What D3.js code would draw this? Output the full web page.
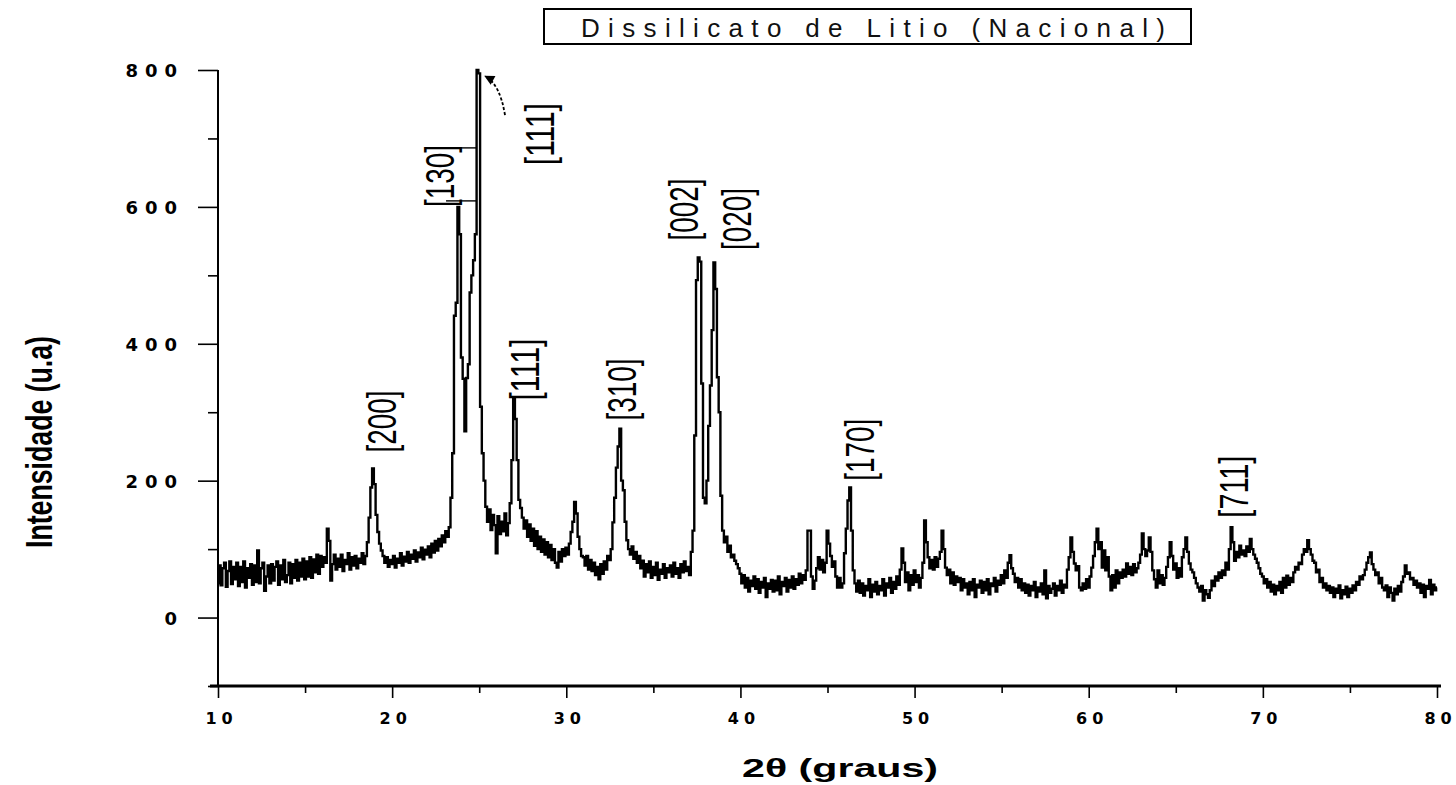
<!DOCTYPE html>
<html>
<head>
<meta charset="utf-8">
<script src="https://cdn.jsdelivr.net/npm/d3@7"></script>
<style>
  html, body { margin: 0; padding: 0; background: #fff; }
  svg { display: block; }
</style>
</head>
<body>
<svg id="chart" width="1456" height="785"></svg>
<script>
// ---------------- data ----------------
const chartTitle = "Dissilicato de Litio (Nacional)";
const xTitle = "2θ (graus)";
const yTitle = "Intensidade (u.a)";

const angleStart = 10;      // 2θ of first sample (degrees)
const angleStep = 0.1;      // sampling step (degrees)
// intensity readings, one per 0.1° from 10.0° to 80.0°
const intensity = [
  50,76,47,72,80,45,68,82,49,74,
  56,80,46,74,52,82,44,72,58,78,
  48,76,52,98,50,72,80,39,60,76,
  50,78,54,74,82,48,76,56,84,52,
  62,80,50,78,58,84,54,80,60,86,
  56,82,60,88,58,85,66,92,64,90,
  74,88,80,130,112,54,78,92,70,86,
  74,92,68,84,78,94,70,88,76,90,
  72,86,80,94,78,90,110,146,190,218,
  195,150,125,108,98,90,80,88,74,84,
  78,90,73,86,80,94,76,89,82,96,
  80,92,86,98,82,95,88,102,85,99,
  92,104,88,108,95,112,98,115,104,120,
  110,126,118,132,175,240,441,460,600,560,
  380,349,272,350,370,475,500,522,560,800,
  795,308,240,200,162,140,158,128,150,135,
  94,148,122,140,126,152,120,138,167,230,
  321,290,230,172,160,146,130,142,118,136,
  112,130,105,126,100,118,96,114,92,110,
  88,106,84,100,80,73,96,82,100,90,
  102,92,108,125,140,169,152,118,100,90,
  88,76,90,70,84,68,80,62,74,56,
  78,64,82,70,90,84,100,139,175,219,
  250,276,200,186,140,113,100,92,104,86,
  96,80,90,72,83,60,78,66,82,58,
  74,62,80,55,70,64,78,58,72,66,
  76,60,80,64,72,58,78,66,82,68,
  74,62,96,127,266,493,526,520,342,175,
  167,200,280,339,420,519,480,351,300,178,
  127,110,118,96,105,88,92,83,78,72,
  64,50,62,44,58,38,54,46,60,42,
  56,36,52,44,58,30,50,42,55,38,
  54,40,60,34,52,46,58,38,55,44,
  60,42,56,48,64,50,62,55,69,127,
  127,60,42,54,72,88,70,84,66,80,
  127,108,90,74,82,60,44,58,44,50,
  94,130,171,190,127,69,50,38,54,36,
  50,32,46,40,56,30,48,38,52,34,
  46,40,56,32,50,44,58,36,52,42,
  60,48,70,101,80,52,66,40,62,48,
  69,52,62,44,58,80,142,110,88,72,
  84,70,88,74,86,96,127,100,73,62,
  70,50,66,48,60,52,58,40,56,44,
  50,34,52,40,56,30,48,44,54,36,
  52,40,56,34,50,46,58,38,54,48,
  62,50,69,58,80,91,72,64,52,58,
  44,56,40,50,36,48,32,46,40,52,
  30,44,38,50,34,69,28,46,36,42,
  50,32,46,40,54,36,48,44,70,88,
  117,96,79,69,75,44,40,50,42,56,
  44,60,73,90,110,130,100,110,73,98,
  69,88,60,40,62,44,69,50,66,58,
  70,60,79,64,74,62,78,66,72,80,
  92,123,100,90,98,117,96,69,56,44,
  69,50,62,48,58,74,88,110,90,70,
  79,58,72,60,88,100,117,96,79,70,
  66,58,50,44,38,46,25,40,34,29,
  40,54,46,60,54,66,58,69,62,80,
  70,100,132,110,83,96,88,105,92,98,
  90,104,96,115,100,92,86,80,72,64,
  60,50,56,44,52,38,48,34,46,40,
  52,36,58,44,61,48,58,52,66,74,
  70,80,78,92,100,96,113,100,92,83,
  80,66,70,52,58,44,50,40,46,36,
  44,30,42,36,47,28,40,34,45,30,
  42,36,47,40,52,48,60,56,62,70,
  80,88,95,78,70,62,66,50,58,44,
  40,47,30,44,36,25,42,34,46,38,
  52,60,76,64,66,56,58,48,54,44,
  50,36,48,30,46,42,55,34,48,40,
  44
];

// axes
const xDomain = [10, 80];
const yDomain = [-100, 800];
const xMajorTicks = [10, 20, 30, 40, 50, 60, 70, 80];
const xMinorTicks = [15, 25, 35, 45, 55, 65, 75];
const yMajorTicks = [0, 200, 400, 600, 800];
const yMinorTicks = [-100, 100, 300, 500, 700];

// peak (Miller index) annotations: label, 2θ of label centre, intensity at label bottom
const peakLabels = ["[200]", "[130]", "[111]", "[111]", "[310]", "[002]", "[020]", "[170]", "[711]"];
const peakLabelAngle = [19.42, 22.75, 28.5, 27.63, 33.2, 36.77, 39.8, 46.87, 68.36];
const peakLabelBase = [241, 600, 661, 317, 288, 551, 537, 200, 146];
const bracketedLabel = 1;        // index of the label whose brackets reach the peak
const bracketReachAngle = 24.85; // 2θ where those bracket strokes end

// arrow from upper [111] label to main peak: [2θ, intensity]
const arrowTail = [26.48, 734];
const arrowHead = [25.34, 791];

// ---------------- drawing ----------------
const svg = d3.select("#chart");
const mLeft = 218, mRight = 1437, mTop = 70, mBottom = 686;

const x = d3.scaleLinear().domain(xDomain).range([mLeft, mRight]);
const y = d3.scaleLinear().domain(yDomain).range([mBottom, mTop]);

// title box
const tg = svg.append("g");
tg.append("rect").attr("x", 544).attr("y", 9).attr("width", 647).attr("height", 35)
  .attr("fill", "#fff").attr("stroke", "#000").attr("stroke-width", 2);
tg.append("text").attr("x", 581).attr("y", 37)
  .attr("font-family", "Liberation Sans, Arial, sans-serif").attr("font-size", 26)
  .attr("textLength", 584).attr("lengthAdjust", "spacing")
  .attr("fill", "#111").text(chartTitle);

// data line
const pts = intensity.map((v, i) => [angleStart + i * angleStep, v]);
const line = d3.line().x(d => x(d[0])).y(d => y(d[1])).curve(d3.curveStep);
svg.append("path").datum(pts).attr("d", line)
  .attr("fill", "none").attr("stroke", "#000").attr("stroke-width", 2.4)
  .attr("stroke-linejoin", "miter");

// axes
const tickFont = "Liberation Sans, Arial, sans-serif";
const yAxis = svg.append("g").attr("transform", `translate(${mLeft},0)`)
  .call(d3.axisLeft(y).tickValues(yMajorTicks).tickSize(20).tickPadding(14).tickFormat(d3.format("d")));
svg.append("g").attr("transform", `translate(${mLeft},0)`)
  .call(d3.axisLeft(y).tickValues(yMinorTicks).tickSize(10).tickFormat(""))
  .select(".domain").remove();
yAxis.select(".domain").attr("d", `M0,${mTop}V${mBottom}`).attr("stroke-width", 2);

const xAxis = svg.append("g").attr("transform", `translate(0,${mBottom})`)
  .call(d3.axisBottom(x).tickValues(xMajorTicks).tickSize(12).tickPadding(15).tickFormat(d3.format("d")));
svg.append("g").attr("transform", `translate(0,${mBottom})`)
  .call(d3.axisBottom(x).tickValues(xMinorTicks).tickSize(7).tickFormat(""))
  .select(".domain").remove();
xAxis.select(".domain").attr("d", `M${mLeft - 8},0H${mRight + 4}`).attr("stroke-width", 3);

svg.selectAll(".tick line").attr("stroke-width", 1.6);
svg.selectAll(".tick text")
  .attr("font-family", "DejaVu Sans, sans-serif").attr("font-weight", "bold").attr("font-size", 18)
  .attr("fill", "#000").style("letter-spacing", "7px");
yAxis.selectAll(".tick text").attr("dy", "0.36em");
xAxis.selectAll(".tick text").attr("dx", "3px").attr("font-size", 16).style("letter-spacing", "5px");

// axis titles
svg.append("text").attr("x", 840).attr("y", 777).attr("text-anchor", "middle")
  .attr("font-family", tickFont).attr("font-weight", "bold").attr("font-size", 25)
  .attr("textLength", 196).attr("lengthAdjust", "spacingAndGlyphs").text(xTitle);
svg.append("text").attr("transform", "translate(52,442) rotate(-90)").attr("text-anchor", "middle")
  .attr("font-family", tickFont).attr("font-weight", "bold").attr("font-size", 36)
  .attr("textLength", 212).attr("lengthAdjust", "spacingAndGlyphs").text(yTitle);

// peak labels (rotated)
const lg = svg.append("g");
peakLabels.forEach((lab, i) => {
  const px = x(peakLabelAngle[i]), py = y(peakLabelBase[i]);
  lg.append("text").attr("transform", `translate(${px + 14},${py}) rotate(-90)`)
    .attr("font-family", tickFont).attr("font-size", 40)
    .attr("textLength", 62).attr("lengthAdjust", "spacingAndGlyphs")
    .attr("fill", "#000").text(lab);
  if (i === bracketedLabel) {
    [py - 6, py - 59].forEach(yy => {
      lg.append("line").attr("x1", px + 6).attr("x2", x(bracketReachAngle))
        .attr("y1", yy).attr("y2", yy).attr("stroke", "#000").attr("stroke-width", 1.4);
    });
  }
});

// arrow
const defs = svg.append("defs");
defs.append("marker").attr("id", "ah").attr("viewBox", "0 0 10 10").attr("refX", 9).attr("refY", 5)
  .attr("markerWidth", 12).attr("markerHeight", 10).attr("markerUnits", "userSpaceOnUse").attr("orient", "auto")
  .append("path").attr("d", "M0,0L10,5L0,10Z").attr("fill", "#000");
const ax0 = x(arrowTail[0]), ay0 = y(arrowTail[1]), ax1 = x(arrowHead[0]), ay1 = y(arrowHead[1]);
svg.append("path")
  .attr("d", `M${ax0},${ay0}Q${ax0 - 5},${ay1 + 8} ${ax1},${ay1}`)
  .attr("fill", "none").attr("stroke", "#000").attr("stroke-width", 1.8)
  .attr("stroke-dasharray", "3,2").attr("marker-end", "url(#ah)");
</script>
</body>
</html>
